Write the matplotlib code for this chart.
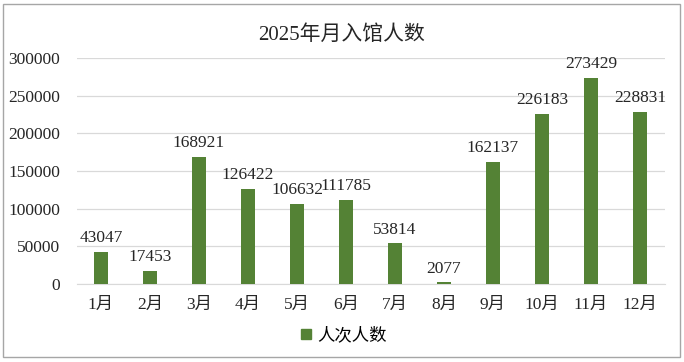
import matplotlib
matplotlib.use("Agg")
import matplotlib.pyplot as plt
from matplotlib.patches import Rectangle
from matplotlib.lines import Line2D

months = ["1月", "2月", "3月", "4月", "5月", "6月", "7月", "8月", "9月", "10月", "11月", "12月"]
visitors = [43047, 17453, 168921, 126422, 106632, 111785, 53814, 2077, 162137, 226183, 273429, 228831]
yticks = [0, 50000, 100000, 150000, 200000, 250000, 300000]
title = "2025年月入馆人数"
series_name = "人次人数"

FONT = ["Liberation Serif", "Noto Sans CJK SC", "DejaVu Sans"]
plt.rcParams["font.family"] = FONT
GREEN = "#548235"
GRID = "#d9d9d9"
TXT = "#262626"

fig = plt.figure(figsize=(6.84, 3.62), dpi=100)
fig.patches.append(Rectangle((3/684, 5/362), 677/684, 353/362, transform=fig.transFigure,
                             fill=False, edgecolor="#a6a6a6", linewidth=1.0))
ax = fig.add_axes([76.5/684, 78/362, 588/684, 226/362])
x = list(range(len(months)))
ax.bar(x, visitors, width=0.29, color=GREEN, zorder=3)
for xi, v in zip(x, visitors):
    ax.annotate(str(v), (xi, v), xytext=(0, 4), textcoords="offset points",
                ha="center", va="bottom", fontsize=12.5, color=TXT)
ax.set_xlim(-0.5, len(months) - 0.5)
ax.set_ylim(0, 300000)
ax.set_yticks(yticks)
ax.set_yticklabels([str(t) for t in yticks])
ax.set_xticks(x)
ax.set_xticklabels(months)
ax.tick_params(axis="both", length=0, labelsize=12.5, colors=TXT)
ax.tick_params(axis="y", pad=12)
ax.tick_params(axis="x", pad=9)
ax.grid(axis="y", color=GRID, linewidth=0.9, zorder=0)
for s in ["top", "right", "left"]:
    ax.spines[s].set_visible(False)
ax.spines["bottom"].set_color(GRID)
fig.text(0.5, 1 - 35/362, title, ha="center", va="center", fontsize=15, color=TXT)
handle = Line2D([], [], marker="s", linestyle="none", color=GREEN, markersize=7)
fig.legend([handle], [series_name], loc="center", bbox_to_anchor=(0.5, 1 - 336/362),
           frameon=False, fontsize=12.5, handletextpad=0.1, handlelength=1.0)
fig.savefig("out.png", dpi=100)
